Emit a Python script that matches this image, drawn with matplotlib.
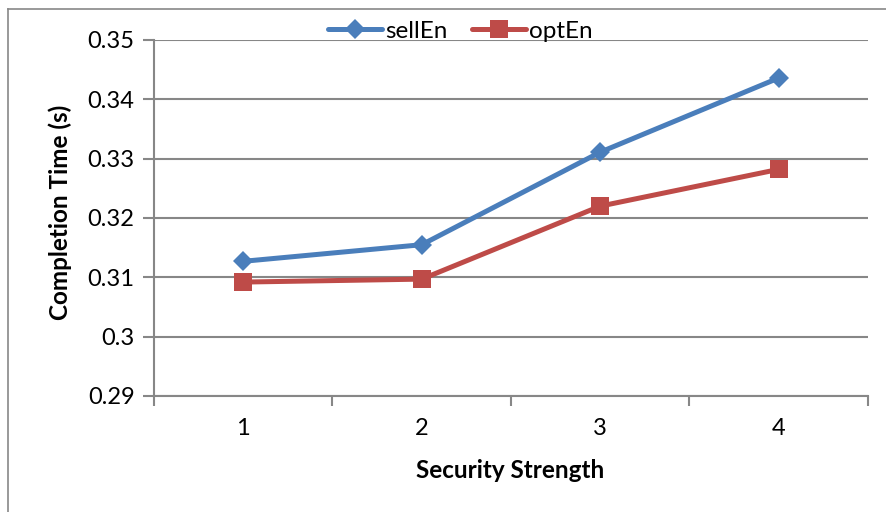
import matplotlib
matplotlib.use("Agg")
import matplotlib.pyplot as plt
from matplotlib.lines import Line2D
from matplotlib.ticker import FixedLocator, NullFormatter

plt.rcParams['font.family'] = ['Lato', 'DejaVu Sans']

# Data
strengths = [1, 2, 3, 4]
strength_labels = ['1', '2', '3', '4']
sell_en = [0.3127, 0.3155, 0.3311, 0.3436]
opt_en = [0.3092, 0.3097, 0.3220, 0.3282]
y_ticks = [0.29, 0.30, 0.31, 0.32, 0.33, 0.34, 0.35]
y_tick_labels = ['0.29', '0.3', '0.31', '0.32', '0.33', '0.34', '0.35']

W, H = 887, 512
fig = plt.figure(figsize=(W / 100, H / 100), dpi=100)

grid_color = '#878787'
blue = '#4A7EBB'
red = '#BE4B48'

ax = fig.add_axes([154 / W, 1 - 396 / H, (868 - 154) / W, (396 - 40) / H])

ax.plot(strengths, sell_en, color=blue, lw=3.6, marker='D', markersize=10,
        markeredgewidth=0, label='sellEn', solid_capstyle='round', zorder=3)
ax.plot(strengths, opt_en, color=red, lw=3.6, marker='s', markersize=13.5,
        markeredgewidth=0, label='optEn', solid_capstyle='round', zorder=3)

ax.set_xlim(0.5, 4.5)
ax.set_ylim(0.29, 0.35)
ax.set_yticks(y_ticks)
ax.set_yticklabels(y_tick_labels)
ax.set_xticks(strengths)
ax.set_xticklabels(strength_labels)
ax.tick_params(axis='x', which='major', length=0, pad=16, labelsize=17)
ax.xaxis.set_minor_locator(FixedLocator([0.5, 1.5, 2.5, 3.5, 4.5]))
ax.xaxis.set_minor_formatter(NullFormatter())
ax.tick_params(axis='x', which='minor', length=7, width=1.5, color=grid_color,
               direction='out')
ax.tick_params(axis='y', length=8, width=1.5, color=grid_color,
               direction='out', pad=6, labelsize=17)

ax.yaxis.grid(True, color=grid_color, lw=1.5)
ax.set_axisbelow(True)
for s in ['top', 'right']:
    ax.spines[s].set_visible(False)
for s in ['left', 'bottom']:
    ax.spines[s].set_color(grid_color)
    ax.spines[s].set_linewidth(1.5)

ax.set_ylabel('Completion Time (s)', fontsize=17.5, fontweight='bold')
ax.set_xlabel('Security Strength', fontsize=17.5, fontweight='bold')
ax.yaxis.set_label_coords((60 - 154) / 714, (396 - 212) / 356)
ax.xaxis.set_label_coords((510 - 154) / 714, (396 - 470) / 356)
ax.xaxis.label.set_va('center')
ax.yaxis.label.set_va('center')

fig.legend(loc='center', bbox_to_anchor=(460 / W, 1 - 31 / H), ncol=2,
           frameon=False, fontsize=17.5, handlelength=2.25, handletextpad=0.1,
           columnspacing=1.0, borderpad=0)

# Chart-area border (left and top edges)
fig.add_artist(Line2D([8 / W, 8 / W], [0, 1 - 9 / H], color=grid_color, lw=1.2))
fig.add_artist(Line2D([8 / W, 1], [1 - 9 / H, 1 - 9 / H], color=grid_color, lw=1.2))

fig.savefig('out.png', dpi=100)
